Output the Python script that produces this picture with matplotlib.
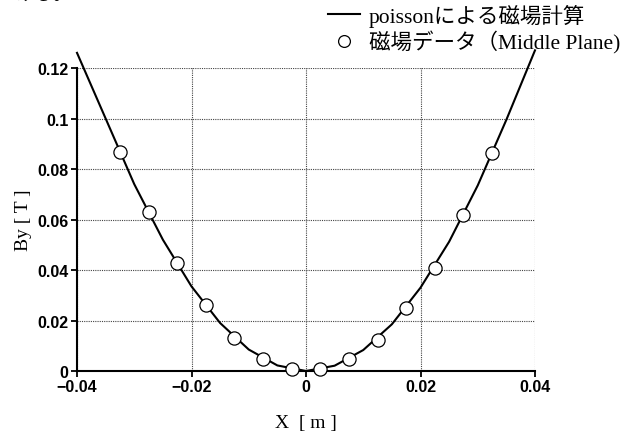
import matplotlib
matplotlib.use('Agg')

import matplotlib.pyplot as plt
from matplotlib.lines import Line2D

# poisson calculation (curve)
line_x = [-0.04, -0.035, -0.03, -0.025, -0.02, -0.015, -0.01, -0.005, 0.0,
          0.005, 0.01, 0.015, 0.02, 0.025, 0.03, 0.035, 0.04]
line_y = [0.126, 0.100, 0.074, 0.052, 0.0335, 0.019, 0.0085, 0.0022, 0.0,
          0.0021, 0.0083, 0.0185, 0.033, 0.0512, 0.0735, 0.0995, 0.127]

# measured field data (Middle Plane)
data_x = [-0.0325, -0.0275, -0.0225, -0.0175, -0.0125, -0.0075, -0.0025,
          0.0025, 0.0075, 0.0125, 0.0175, 0.0225, 0.0275, 0.0325]
data_y = [0.0866, 0.0629, 0.0427, 0.026, 0.0132, 0.0049, 0.0007,
          0.0007, 0.0046, 0.0124, 0.0249, 0.0407, 0.0619, 0.0862]

x_ticks = [-0.04, -0.02, 0, 0.02, 0.04]
x_labels = ['\u22120.04', '\u22120.02', '0', '0.02', '0.04']
y_ticks = [0, 0.02, 0.04, 0.06, 0.08, 0.1, 0.12]
y_labels = ['0', '0.02', '0.04', '0.06', '0.08', '0.1', '0.12']

serif_jp = ['Liberation Serif', 'Noto Sans CJK JP']
tick_font = {'family': 'Liberation Sans', 'weight': 'bold', 'size': 11.5}

fig = plt.figure(figsize=(6.21, 4.35), dpi=100)
ax = fig.add_axes([77 / 621, 1 - 372 / 435, 458 / 621, 303 / 435])

ax.plot(line_x, line_y, color='black', lw=1.5, clip_on=False, zorder=3)
ax.plot(data_x, data_y, 'o', ms=9.5, mfc='white', mec='black', mew=0.9,
        clip_on=False, zorder=4)

ax.set_xlim(-0.04, 0.04)
ax.set_ylim(0, 0.12)
ax.set_xticks(x_ticks)
ax.set_xticklabels(x_labels, fontdict=tick_font)
ax.set_yticks(y_ticks)
ax.set_yticklabels(y_labels, fontdict=tick_font)
ax.tick_params(direction='out', length=4, width=1.3, pad=2, color='black')

ax.grid(True, linestyle=(0, (1, 1)), color='#444444', lw=0.8)
ax.set_axisbelow(True)
for s in ['top', 'right']:
    ax.spines[s].set_visible(False)
for s in ['left', 'bottom']:
    ax.spines[s].set_linewidth(1.5)

ax.set_xlabel('X  [ m ]', family=serif_jp, fontsize=14, labelpad=14)
ax.set_ylabel('By [ T ]', family=serif_jp, fontsize=14, labelpad=4)

handles = [Line2D([], [], color='black', lw=1.5),
           Line2D([], [], ls='none', marker='o', ms=8.5, mfc='white',
                  mec='black', mew=0.9)]
labels = ['poissonによる磁場計算', '磁場データ（Middle Plane)']
fig.legend(handles, labels, loc='upper left',
           bbox_to_anchor=(328 / 621, 1 - 5 / 435),
           frameon=False, borderpad=0, borderaxespad=0,
           handlelength=1.5, handletextpad=0.4,
           labelspacing=0.17, prop={'family': serif_jp, 'size': 15.5})

# fragment of the text above the figure, cut off at the top edge
fig.text(15 / 621, 1 + 5 / 435, 'ける。', family=serif_jp, fontsize=14,
         va='center')

fig.savefig('out.png', dpi=100)
